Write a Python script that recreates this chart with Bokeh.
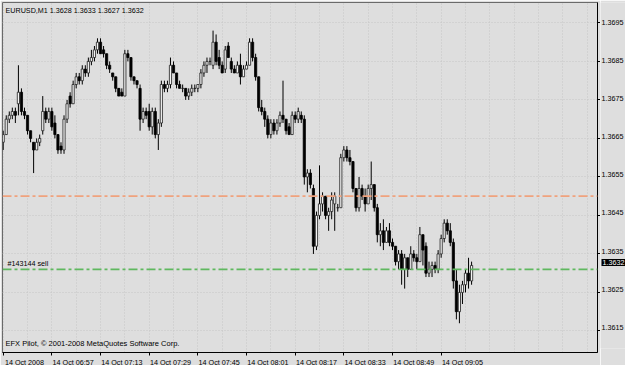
from bokeh.plotting import figure
from bokeh.layouts import row
from bokeh.models import Range1d, FixedTicker, Span, Label, ColumnDataSource, CustomJSTickFormatter
from bokeh.core.properties import value
from bokeh.embed import file_html
from bokeh.resources import INLINE

symbol = "EURUSD,M1"

opens = [1.3664, 1.3666, 1.3670, 1.3671, 1.3672, 1.3674, 1.3677, 1.3672, 1.3671, 1.3667,
         1.3664, 1.3662, 1.3664, 1.3667, 1.3672, 1.3670, 1.3672, 1.3669, 1.3666, 1.3663,
         1.3662, 1.3670, 1.3676, 1.3674, 1.3679, 1.3681, 1.3680, 1.3683, 1.3682, 1.3685,
         1.3686, 1.3688, 1.3690, 1.3688, 1.3687, 1.3684, 1.3682, 1.3681, 1.3678, 1.3677,
         1.3676, 1.3687, 1.3686, 1.3681, 1.3680, 1.3678, 1.3670, 1.3672, 1.3672, 1.3668,
         1.3672, 1.3666, 1.3669, 1.3679, 1.3678, 1.3679, 1.3684, 1.3682, 1.3679, 1.3678,
         1.3678, 1.3676, 1.3677, 1.3678, 1.3678, 1.3679, 1.3682, 1.3684, 1.3685, 1.3684,
         1.3690, 1.3686, 1.3684, 1.3683, 1.3689, 1.3685, 1.3683, 1.3682, 1.3684, 1.3681,
         1.3683, 1.3684, 1.3690, 1.3686, 1.3681, 1.3673, 1.3672, 1.3670, 1.3666, 1.3669,
         1.3667, 1.3669, 1.3671, 1.3670, 1.3668, 1.3666, 1.3671, 1.3670, 1.3671, 1.3670,
         1.3655, 1.3656, 1.3652, 1.3637, 1.3645, 1.3648, 1.3650, 1.3645, 1.3646, 1.3648,
         1.3647, 1.3647, 1.3660, 1.3662, 1.3660, 1.3659, 1.3652, 1.3647, 1.3652, 1.3650,
         1.3648, 1.3652, 1.3653, 1.3647, 1.3640, 1.3641, 1.3638, 1.3641, 1.3638, 1.3637,
         1.3633, 1.3635, 1.3631, 1.3634, 1.3631, 1.3635, 1.3634, 1.3633, 1.3640, 1.3637,
         1.3630, 1.3631, 1.3632, 1.3631, 1.3635, 1.3639, 1.3643, 1.3641, 1.3638, 1.3628,
         1.3620, 1.3625, 1.3627, 1.3630, 1.3628]

highs = [1.3667, 1.3671, 1.3672, 1.3673, 1.3673, 1.3684, 1.3678, 1.3673, 1.3671, 1.3667,
         1.3664, 1.3665, 1.3666, 1.3676, 1.3673, 1.3673, 1.3673, 1.3671, 1.3666, 1.3664,
         1.3671, 1.3675, 1.3677, 1.3680, 1.3682, 1.3682, 1.3684, 1.3684, 1.3686, 1.3688,
         1.3689, 1.3691, 1.3691, 1.3689, 1.3687, 1.3685, 1.3682, 1.3681, 1.3678, 1.3678,
         1.3688, 1.3688, 1.3686, 1.3681, 1.3680, 1.3679, 1.3673, 1.3673, 1.3674, 1.3673,
         1.3673, 1.3670, 1.3680, 1.3680, 1.3680, 1.3686, 1.3685, 1.3682, 1.3680, 1.3679,
         1.3678, 1.3678, 1.3679, 1.3679, 1.3679, 1.3683, 1.3685, 1.3686, 1.3686, 1.3693,
         1.3692, 1.3688, 1.3685, 1.3689, 1.3690, 1.3686, 1.3684, 1.3685, 1.3687, 1.3684,
         1.3685, 1.3691, 1.3691, 1.3687, 1.3681, 1.3675, 1.3673, 1.3671, 1.3670, 1.3670,
         1.3670, 1.3672, 1.3680, 1.3670, 1.3669, 1.3672, 1.3672, 1.3673, 1.3672, 1.3671,
         1.3657, 1.3657, 1.3653, 1.3646, 1.3658, 1.3651, 1.3650, 1.3647, 1.3651, 1.3651,
         1.3648, 1.3661, 1.3663, 1.3663, 1.3662, 1.3659, 1.3652, 1.3655, 1.3653, 1.3652,
         1.3653, 1.3659, 1.3653, 1.3648, 1.3643, 1.3644, 1.3642, 1.3643, 1.3639, 1.3637,
         1.3636, 1.3636, 1.3635, 1.3634, 1.3637, 1.3636, 1.3635, 1.3642, 1.3640, 1.3638,
         1.3633, 1.3633, 1.3633, 1.3636, 1.3640, 1.3644, 1.3644, 1.3643, 1.3639, 1.3631,
         1.3627, 1.3628, 1.3631, 1.3634, 1.3633]

lows = [1.3662, 1.3666, 1.3669, 1.3670, 1.3669, 1.3671, 1.3671, 1.3670, 1.3666, 1.3664,
        1.3656, 1.3662, 1.3663, 1.3666, 1.3669, 1.3669, 1.3667, 1.3665, 1.3661, 1.3661,
        1.3661, 1.3669, 1.3673, 1.3674, 1.3678, 1.3679, 1.3679, 1.3681, 1.3681, 1.3684,
        1.3685, 1.3687, 1.3687, 1.3686, 1.3683, 1.3682, 1.3680, 1.3677, 1.3676, 1.3676,
        1.3676, 1.3685, 1.3680, 1.3679, 1.3678, 1.3667, 1.3669, 1.3670, 1.3667, 1.3666,
        1.3665, 1.3662, 1.3668, 1.3677, 1.3677, 1.3678, 1.3682, 1.3678, 1.3678, 1.3677,
        1.3675, 1.3675, 1.3676, 1.3677, 1.3677, 1.3678, 1.3681, 1.3682, 1.3684, 1.3683,
        1.3684, 1.3683, 1.3682, 1.3682, 1.3686, 1.3682, 1.3682, 1.3682, 1.3679, 1.3681,
        1.3683, 1.3684, 1.3685, 1.3680, 1.3672, 1.3671, 1.3668, 1.3665, 1.3665, 1.3666,
        1.3666, 1.3668, 1.3669, 1.3666, 1.3666, 1.3666, 1.3669, 1.3669, 1.3669, 1.3653,
        1.3651, 1.3652, 1.3635, 1.3636, 1.3644, 1.3646, 1.3644, 1.3641, 1.3644, 1.3641,
        1.3646, 1.3647, 1.3659, 1.3659, 1.3658, 1.3651, 1.3646, 1.3646, 1.3649, 1.3646,
        1.3648, 1.3649, 1.3646, 1.3638, 1.3637, 1.3636, 1.3638, 1.3637, 1.3636, 1.3632,
        1.3631, 1.3627, 1.3626, 1.3629, 1.3631, 1.3633, 1.3631, 1.3633, 1.3632, 1.3629,
        1.3629, 1.3629, 1.3630, 1.3630, 1.3634, 1.3638, 1.3640, 1.3637, 1.3626, 1.3618,
        1.3617, 1.3622, 1.3625, 1.3626, 1.3627]

closes = [1.3666, 1.3670, 1.3671, 1.3672, 1.3671, 1.3677, 1.3672, 1.3671, 1.3667, 1.3665,
          1.3662, 1.3664, 1.3665, 1.3672, 1.3670, 1.3672, 1.3668, 1.3666, 1.3662, 1.3662,
          1.3670, 1.3674, 1.3674, 1.3679, 1.3681, 1.3680, 1.3683, 1.3682, 1.3685, 1.3686,
          1.3688, 1.3690, 1.3687, 1.3687, 1.3684, 1.3683, 1.3681, 1.3678, 1.3676, 1.3676,
          1.3687, 1.3686, 1.3681, 1.3680, 1.3679, 1.3670, 1.3672, 1.3671, 1.3668, 1.3672,
          1.3666, 1.3669, 1.3679, 1.3678, 1.3679, 1.3684, 1.3682, 1.3679, 1.3678, 1.3678,
          1.3676, 1.3677, 1.3678, 1.3678, 1.3679, 1.3682, 1.3684, 1.3685, 1.3685, 1.3690,
          1.3685, 1.3684, 1.3682, 1.3688, 1.3686, 1.3683, 1.3682, 1.3684, 1.3681, 1.3683,
          1.3684, 1.3690, 1.3686, 1.3681, 1.3673, 1.3672, 1.3670, 1.3666, 1.3669, 1.3667,
          1.3669, 1.3671, 1.3670, 1.3667, 1.3666, 1.3671, 1.3670, 1.3672, 1.3670, 1.3655,
          1.3656, 1.3653, 1.3637, 1.3645, 1.3648, 1.3650, 1.3645, 1.3646, 1.3649, 1.3650,
          1.3647, 1.3660, 1.3662, 1.3660, 1.3659, 1.3652, 1.3647, 1.3652, 1.3650, 1.3648,
          1.3652, 1.3653, 1.3647, 1.3640, 1.3641, 1.3638, 1.3641, 1.3638, 1.3637, 1.3633,
          1.3635, 1.3631, 1.3634, 1.3631, 1.3635, 1.3634, 1.3633, 1.3640, 1.3636, 1.3630,
          1.3631, 1.3632, 1.3631, 1.3635, 1.3639, 1.3643, 1.3641, 1.3638, 1.3628, 1.3620,
          1.3625, 1.3627, 1.3630, 1.3628, 1.3632]

time_tick_index = [0, 16, 32, 48, 64, 80, 96, 112, 128, 144]
time_tick_labels = ["14 Oct 2008", "14 Oct 06:57", "14 Oct 07:13", "14 Oct 07:29", "14 Oct 07:45",
                    "14 Oct 08:01", "14 Oct 08:17", "14 Oct 08:33", "14 Oct 08:49", "14 Oct 09:05"]
price_ticks = [1.3615, 1.3625, 1.3635, 1.3645, 1.3655, 1.3665, 1.3675, 1.3685, 1.3695]
level_upper = 1.3650
level_order = 1.3631
order_label = "#143144 sell"
copyright_text = "EFX Pilot, \u00a9 2001-2008 MetaQuotes Software Corp."

FONT = "Liberation Sans"
FS = "7.2px"
BG = "#dedede"
GRID = "#c6c6c6"
LABEL_SHIFT = 7          # date labels start just right of their tick (in bar slots)

n = len(opens)
idx = list(range(n))
up = [i for i in idx if closes[i] >= opens[i]]
dn = [i for i in idx if closes[i] < opens[i]]

wick_src = ColumnDataSource(dict(x=idx, lo=lows, hi=highs))
up_src = ColumnDataSource(dict(x=up, top=[closes[i] for i in up], bottom=[opens[i] for i in up]))
dn_src = ColumnDataSource(dict(x=dn, top=[opens[i] for i in dn], bottom=[closes[i] for i in dn]))

xr = Range1d(-0.23, 195.4)
yr = Range1d(1.36094, 1.37003)

# ---------------- main chart ----------------
p = figure(frame_width=595, frame_height=350, x_range=xr, y_range=yr,
           output_backend="svg", toolbar_location=None, y_axis_location="right",
           min_border_left=2, min_border_top=2, min_border_right=3, min_border_bottom=13)
p.background_fill_color = BG
p.border_fill_color = BG
p.outline_line_color = "#6a6a6a"
p.outline_line_width = 1

# right axis: line + tick marks (labels drawn in side strip)
p.yaxis.ticker = FixedTicker(ticks=price_ticks)
p.yaxis.formatter = CustomJSTickFormatter(code="return ''")
p.yaxis.major_label_standoff = 0
p.yaxis.major_tick_in = 0
p.yaxis.major_tick_out = 3
p.yaxis.minor_tick_line_color = None
p.yaxis.axis_line_color = "black"
p.yaxis.major_tick_line_color = "black"

# bottom axis: tick marks as minor ticks, labels left-aligned to them
p.xaxis.ticker = FixedTicker(ticks=[t + LABEL_SHIFT for t in time_tick_index],
                             minor_ticks=time_tick_index)
p.xaxis.major_label_overrides = {t + LABEL_SHIFT: lab for t, lab in zip(time_tick_index, time_tick_labels)}
p.xaxis.major_label_text_font = FONT
p.xaxis.major_label_text_font_size = FS
p.xaxis.major_label_text_color = "black"
p.xaxis.major_label_standoff = 2
p.xaxis.major_tick_in = 0
p.xaxis.major_tick_out = 0
p.xaxis.major_tick_line_color = None
p.xaxis.minor_tick_in = 0
p.xaxis.minor_tick_out = 3
p.xaxis.minor_tick_line_color = "black"
p.xaxis.axis_line_color = "black"

# grid
p.xgrid.ticker = FixedTicker(ticks=list(range(0, 200, 8)))
p.ygrid.ticker = FixedTicker(ticks=price_ticks)
p.grid.grid_line_color = GRID
p.grid.grid_line_dash = "1 2"
p.grid.grid_line_width = 1

# levels
p.add_layout(Span(location=level_upper, dimension="width", line_color="#f0a27e",
                  line_width=1.6, line_dash="9 3 3 3"))
p.add_layout(Span(location=level_order, dimension="width", line_color="#5fb85f",
                  line_width=1.6, line_dash="9 3 3 3"))

# candles
p.segment(x0="x", y0="lo", x1="x", y1="hi", source=wick_src, line_color="black", line_width=1)
p.vbar(x="x", top="top", bottom="bottom", width=0.72, source=up_src,
       fill_color="#f4f4f4", line_color="#202020", line_width=0.8)
p.vbar(x="x", top="top", bottom="bottom", width=0.72, source=dn_src,
       fill_color="black", line_color="black", line_width=0.8)

# texts inside the chart
header = "%s  %.4f %.4f %.4f %.4f" % (symbol, opens[-1], highs[-1], lows[-1], closes[-1])
p.add_layout(Label(x=xr.start, y=yr.end, x_offset=3, y_offset=-3, text=header,
                   text_baseline="top", text_align="left", text_font=FONT,
                   text_font_size=FS, text_color="black"))
p.add_layout(Label(x=xr.start, y=yr.start, x_offset=3, y_offset=5, text=copyright_text,
                   text_baseline="bottom", text_align="left", text_font=FONT,
                   text_font_size="7.5px", text_color="black"))
p.add_layout(Label(x=xr.start, y=level_order, x_offset=5, y_offset=1, text=order_label,
                   text_baseline="bottom", text_align="left", text_font=FONT,
                   text_font_size=FS, text_color="black"))

# ---------------- price label strip (right) ----------------
SIDE_W = 25
ps = figure(width=SIDE_W, height=365, x_range=Range1d(0, SIDE_W), y_range=yr,
            output_backend="svg", toolbar_location=None,
            x_axis_location=None, y_axis_location=None,
            min_border_left=0, min_border_right=0, min_border_top=2, min_border_bottom=13)
ps.background_fill_color = BG
ps.border_fill_color = BG
ps.outline_line_color = None
ps.grid.visible = False
ps.text(x=[1] * len(price_ticks), y=price_ticks, text=["%.4f" % t for t in price_ticks],
        text_font=value(FONT), text_font_size=value(FS), text_color="black",
        text_baseline="middle", text_align="left")
ps.add_layout(Label(x=1, y=closes[-1], text="%.4f" % closes[-1],
                    text_baseline="middle", text_align="left", text_font=FONT,
                    text_font_size=FS, text_color="white",
                    background_fill_color="black", padding=1))

layout = row(p, ps, spacing=0)
open("out.html", "w").write(file_html(layout, INLINE))
